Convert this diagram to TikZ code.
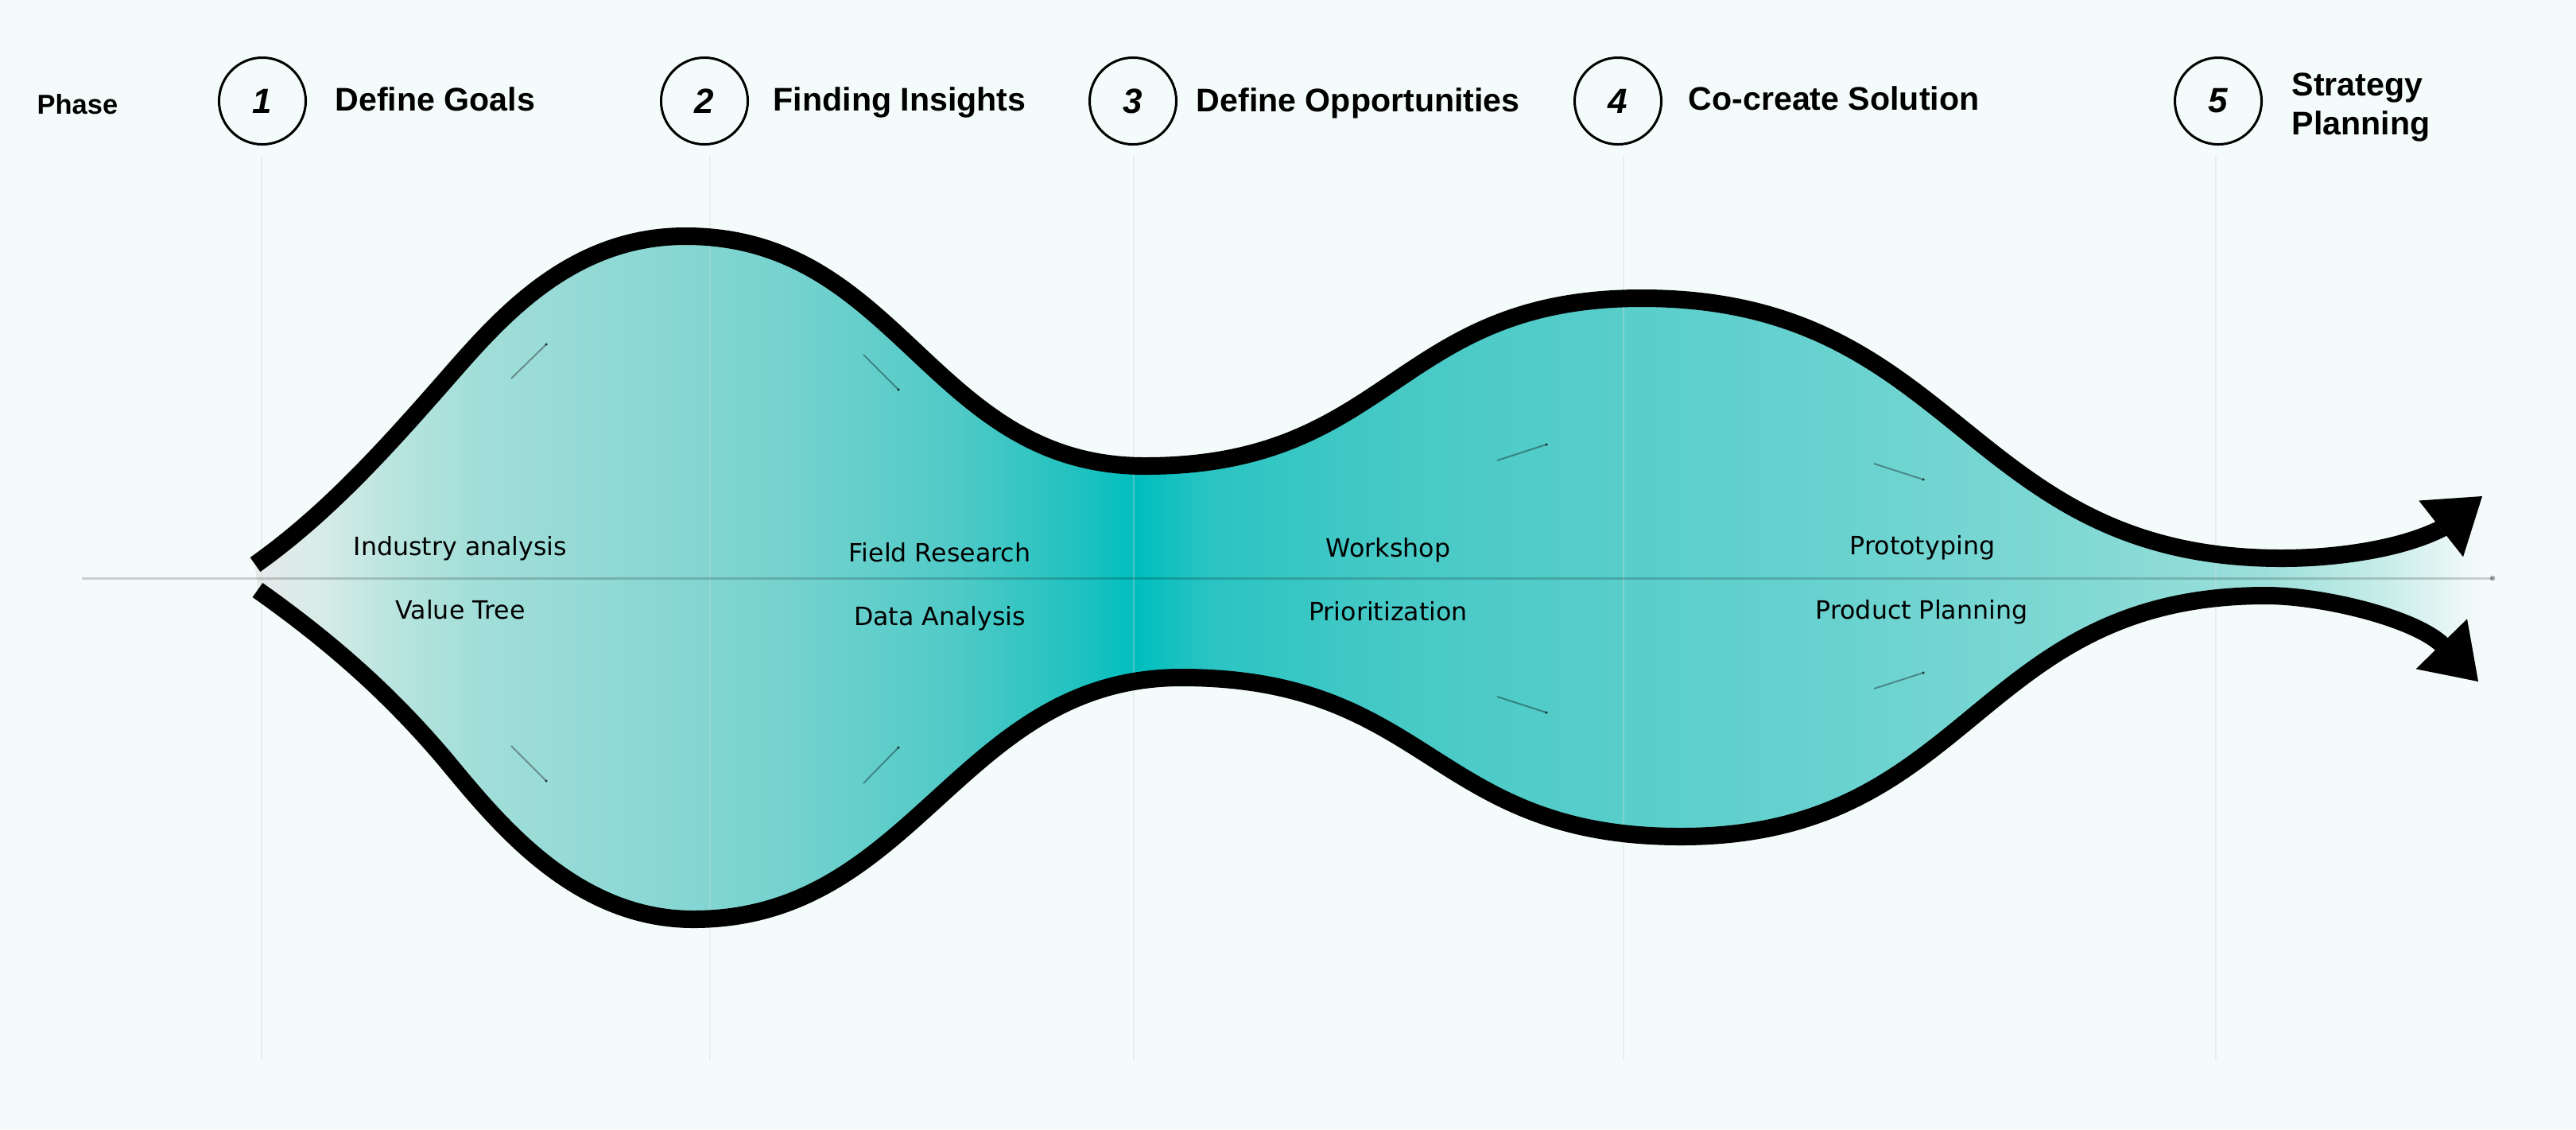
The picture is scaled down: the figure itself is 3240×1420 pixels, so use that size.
\documentclass[tikz,border=0pt]{standalone}
\usepackage{fontspec}
\setmainfont{DejaVu Sans}
\newfontfamily\headfont{Liberation Sans}
\newfontfamily\bodyfont{DejaVu Sans}
\usetikzlibrary{arrows.meta}
\definecolor{bgc}{HTML}{F3FCFB}
\definecolor{guidec}{HTML}{D0D8D8}
\definecolor{s00}{HTML}{E6EBEA}
\definecolor{s01}{HTML}{D8ECE8}
\definecolor{s02}{HTML}{B8E4DE}
\definecolor{s03}{HTML}{A2DED9}
\definecolor{s04}{HTML}{8DD8D4}
\definecolor{s05}{HTML}{74D2CE}
\definecolor{s06}{HTML}{50CAC7}
\definecolor{s07}{HTML}{22C2C0}
\definecolor{s08}{HTML}{00BEBE}
\definecolor{s09}{HTML}{2AC4C2}
\definecolor{s10}{HTML}{46C9C6}
\definecolor{s11}{HTML}{56CDCA}
\definecolor{s12}{HTML}{68D2CF}
\definecolor{s13}{HTML}{7FD8D4}
\definecolor{s14}{HTML}{9CDFDA}
\definecolor{s15}{HTML}{C8EDE9}
\definecolor{s16}{HTML}{EEF8F7}
\definecolor{s17}{HTML}{F3FCFB}
\pgfdeclarehorizontalshading{flowshade}{100bp}{color(0bp)=(s00); color(25bp)=(s00); color(26.41bp)=(s01); color(28.2bp)=(s02); color(29.98bp)=(s03); color(33.55bp)=(s04); color(37.12bp)=(s05); color(40.69bp)=(s06); color(43.37bp)=(s07); color(44.8bp)=(s08); color(46.4bp)=(s09); color(50.51bp)=(s10); color(54.97bp)=(s11); color(60.33bp)=(s12); color(65.68bp)=(s13); color(70.15bp)=(s14); color(72.82bp)=(s15); color(74.61bp)=(s16); color(75bp)=(s17); color(100bp)=(s17)}
\begin{document}
\begin{tikzpicture}[x=0.01cm, y=-0.01cm,
  phasecircle/.style={circle, draw=black, line width=0.03cm, minimum size=1.09cm, inner sep=0pt, font=\headfont\bfseries\itshape\fontsize{12.5}{14}\selectfont},
  phasetitle/.style={anchor=base west, inner sep=0pt, font=\headfont\bfseries\fontsize{11.7}{13.9}\selectfont, align=left},
  activity/.style={anchor=base, inner sep=0pt, font=\bodyfont\fontsize{9}{10.8}\selectfont},
  guide/.style={draw=guidec, line width=0.02cm, opacity=0.35},
  axisline/.style={draw=black, line width=0.03cm, opacity=0.18},
  flowline/.style={draw=black, line width=0.22cm},
  flowtip/.style={-{Triangle[length=0.66cm,width=0.9cm,line width=0pt]}},
  tickline/.style={draw=black, line width=0.02cm, opacity=0.35},
  tickdot/.style={fill=black, opacity=0.7}]
\useasboundingbox (0,0) rectangle (3240,1420);
\fill[bgc] (0,0) rectangle (3240,1420);

% gradient body of the flow
\begin{scope}
\clip (321,710) .. controls (410,647) and (484,565) .. (556,483)
 .. controls (622,408) and (712,297) .. (862,297)
 .. controls (1132,297) and (1170,586) .. (1440,586)
 .. controls (1752,586) and (1753,375) .. (2065,375)
 .. controls (2465,375) and (2470,702) .. (2870,702)
 .. controls (2940,702) and (3020,690) .. (3070,665)
 -- (3122,624) -- (3117,857) -- (3073,812)
 .. controls (3038,777) and (2920,749) .. (2850,749)
 .. controls (2482,749) and (2482,1052) .. (2114,1052)
 .. controls (1800,1052) and (1800,852) .. (1486,852)
 .. controls (1206,852) and (1152,1156) .. (872,1156)
 .. controls (722,1156) and (624,1032) .. (560,955)
 .. controls (488,870) and (413,805) .. (324,742) -- cycle;
\shade[shading=flowshade] (321,250) rectangle (3122,1200);
\end{scope}

% vertical guides
\draw[guide] (329,196) -- (329,1333);
\draw[guide] (893,196) -- (893,1333);
\draw[guide] (1426,196) -- (1426,1333);
\draw[guide] (2042,196) -- (2042,1333);
\draw[guide] (2787,196) -- (2787,1333);

% horizontal axis
\coordinate (axl) at (103,727);
\coordinate (axr) at (3135,727);
\draw[axisline] (axl) -- (axr);
\fill[black, opacity=0.35] (axr) circle[radius=0.9pt];

% small tick marks
\draw[tickline] (643,476) -- (687,433); \fill[tickdot] (687,433) circle[radius=0.5pt];
\draw[tickline] (1086,446) -- (1130,490); \fill[tickdot] (1130,490) circle[radius=0.5pt];
\draw[tickline] (643,938) -- (687,982); \fill[tickdot] (687,982) circle[radius=0.5pt];
\draw[tickline] (1086,985) -- (1130,940); \fill[tickdot] (1130,940) circle[radius=0.5pt];
\draw[tickline] (1883,579) -- (1945,559); \fill[tickdot] (1945,559) circle[radius=0.5pt];
\draw[tickline] (2357,583) -- (2419,603); \fill[tickdot] (2419,603) circle[radius=0.5pt];
\draw[tickline] (1883,876) -- (1945,896); \fill[tickdot] (1945,896) circle[radius=0.5pt];
\draw[tickline] (2357,866) -- (2419,846); \fill[tickdot] (2419,846) circle[radius=0.5pt];

% black flow outlines
\draw[flowline, flowtip] (321,710) .. controls (410,647) and (484,565) .. (556,483)
 .. controls (622,408) and (712,297) .. (862,297)
 .. controls (1132,297) and (1170,586) .. (1440,586)
 .. controls (1752,586) and (1753,375) .. (2065,375)
 .. controls (2465,375) and (2470,702) .. (2870,702)
 .. controls (2940,702) and (3020,690) .. (3070,665)
 -- (3122,624);
\draw[flowline, flowtip] (324,742) .. controls (413,805) and (488,870) .. (560,955)
 .. controls (624,1032) and (722,1156) .. (872,1156)
 .. controls (1152,1156) and (1206,852) .. (1486,852)
 .. controls (1800,852) and (1800,1052) .. (2114,1052)
 .. controls (2482,1052) and (2482,749) .. (2850,749)
 .. controls (2920,749) and (3038,777) .. (3073,812)
 -- (3117,857);

% header
\node[anchor=base west, inner sep=0pt, font=\headfont\bfseries\fontsize{9.8}{11}\selectfont] (phase) at (46,143) {Phase};
\node[phasecircle] (c1) at (330,127) {1};
\node[phasecircle] (c2) at (886,127) {2};
\node[phasecircle] (c3) at (1425,127) {3};
\node[phasecircle] (c4) at (2035,127) {4};
\node[phasecircle] (c5) at (2790,127) {5};
\node[phasetitle] (t1) at (421,139) {Define Goals};
\node[phasetitle] (t2) at (972,139) {Finding Insights};
\node[phasetitle] (t3) at (1504,140) {Define Opportunities};
\node[phasetitle] (t4) at (2123,138) {Co-create Solution};
\node[phasetitle] (t5) at (2882,169) {Strategy\\Planning};

% activities
\node[activity] (a1) at (579,698) {Industry analysis};
\node[activity] (b1) at (579,778) {Value Tree};
\node[activity] (a2) at (1182,706) {Field Research};
\node[activity] (b2) at (1182,786) {Data Analysis};
\node[activity] (a3) at (1746,700) {Workshop};
\node[activity] (b3) at (1746,780) {Prioritization};
\node[activity] (a4) at (2418,697) {Prototyping};
\node[activity] (b4) at (2417,778) {Product Planning};
\end{tikzpicture}
\end{document}
